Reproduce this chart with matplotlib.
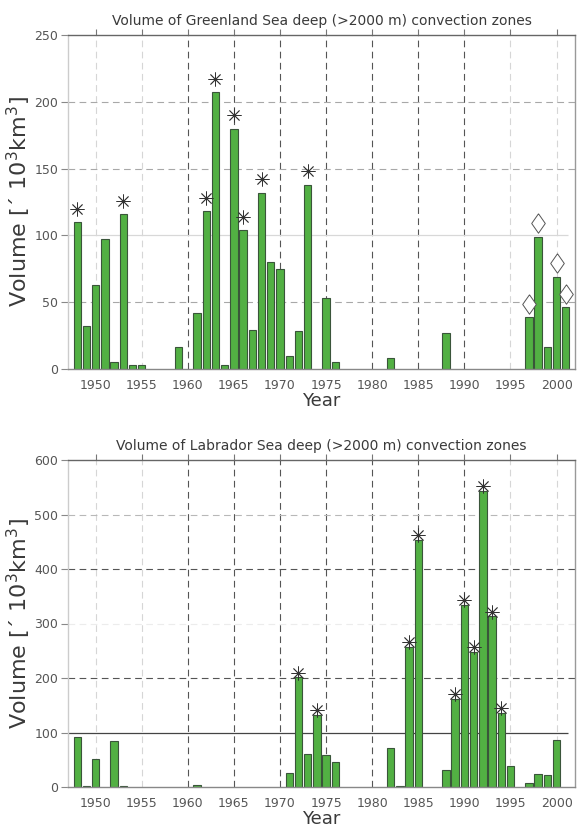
import matplotlib
matplotlib.use("Agg")
import matplotlib.pyplot as plt
import numpy as np

# ---------------- data ----------------
gr_years = [1948, 1949, 1950, 1951, 1952, 1953, 1954, 1955, 1959, 1961, 1962, 1963,
            1964, 1965, 1966, 1967, 1968, 1969, 1970, 1971, 1972, 1973, 1975, 1976,
            1982, 1988, 1997, 1998, 1999, 2000, 2001]
gr_values = [110, 32, 63, 97, 5.5, 116, 2.7, 2.7, 16.5, 42, 118, 207,
             2.7, 180, 104, 29, 132, 80, 75, 10, 28.5, 138, 53.5, 5.5,
             8.5, 27, 39, 99, 16.5, 69, 46.5]
gr_star_years = [1948, 1953, 1962, 1963, 1965, 1966, 1968, 1973]
gr_diamond_years = [1997, 1998, 2000, 2001]

lab_years = [1948, 1949, 1950, 1952, 1953, 1961, 1971, 1972, 1973, 1974, 1975, 1976,
             1982, 1983, 1984, 1985, 1988, 1989, 1990, 1991, 1992, 1993, 1994, 1995,
             1997, 1998, 1999, 2000]
lab_values = [91, 1, 50.5, 83.5, 1, 3.5, 26, 201, 61, 132, 59, 45.5,
              71, 1, 257, 454, 30.5, 161, 334.5, 247, 543, 313, 136, 38.5,
              7.5, 24, 22, 85.5]
lab_star_years = [1972, 1974, 1984, 1985, 1989, 1990, 1991, 1992, 1993, 1994]

x_ticks = [1950, 1955, 1960, 1965, 1970, 1975, 1980, 1985, 1990, 1995, 2000]
gr_yticks = [0, 50, 100, 150, 200, 250]
lab_yticks = [0, 100, 200, 300, 400, 500, 600]

titles = ["Volume of Greenland Sea deep (>2000 m) convection zones",
          "Volume of Labrador Sea deep (>2000 m) convection zones"]
ylabel = "Volume [\u00b4 10$^3$km$^3$]"
xlabel = "Year"

# ---------------- style ----------------
plt.rcParams['font.family'] = ['DejaVu Sans']
BAR_FACE = '#52b043'
BAR_EDGE = '#3a553a'
TXT = '#3a3a3a'
DARK_V = [1960, 1965, 1970, 1975, 1980, 1985, 1990]
DIAMOND = [(0, 1), (0.7, 0), (0, -1), (-0.7, 0), (0, 1)]

fig = plt.figure(figsize=(5.79, 8.30), dpi=100)
ax1 = fig.add_axes([68/579, 1-369/830, (575-68)/579, (369-35)/830])
ax2 = fig.add_axes([68/579, 1-787/830, (575-68)/579, (787-460)/830])


def style_axis(ax, ylim, yticks, hstyles, xlabelpad):
    ax.set_xlim(1947, 2002)
    ax.set_ylim(*ylim)
    ax.set_xticks(x_ticks)
    ax.set_yticks(yticks)
    for xv in x_ticks:
        if xv in DARK_V:
            ax.axvline(xv, color='#555555', lw=0.8, ls=(0, (6, 4)), zorder=0)
        else:
            ax.axvline(xv, color='#d6d6d6', lw=0.8, ls=(0, (6, 4)), zorder=0)
    for yv, (col, ls) in hstyles.items():
        if ls == 'solid':
            ax.hlines(yv, 1947, 2001.2, color=col, lw=0.9, zorder=0.5)
        else:
            ax.axhline(yv, color=col, lw=0.8, ls=(0, (6, 4)), zorder=0)
    ax.spines['left'].set_color('#cccccc')
    ax.spines['top'].set_color('#666666')
    ax.spines['right'].set_color('#999999')
    ax.spines['bottom'].set_color('#888888')
    for s in ax.spines.values():
        s.set_linewidth(1.0)
    ax.tick_params(axis='y', direction='out', length=5, width=0.8, color='#888888',
                   labelsize=9, labelcolor='#555555', pad=2)
    ax.tick_params(axis='x', direction='out', labelsize=9, labelcolor='#555555', pad=3)
    ax.tick_params(axis='x', which='major', top=True, length=4, color='#777777')
    ax.tick_params(axis='x', bottom=False)
    ax.set_ylabel(ylabel, fontsize=16, color=TXT)
    ax.yaxis.set_label_coords(-0.069, 0.5)
    ax.set_xlabel(xlabel, fontsize=13, color=TXT, labelpad=xlabelpad)


# ---------- top panel ----------
style_axis(ax1, (0, 250), gr_yticks,
           {200: ('#a8a8a8', 'dash'), 150: ('#a8a8a8', 'dash'),
            100: ('#d8d8d8', 'solid'), 50: ('#a8a8a8', 'dash')}, 0.5)
ax1.bar(gr_years, gr_values, width=0.8, color=BAR_FACE, edgecolor=BAR_EDGE,
        linewidth=0.8, zorder=2)
gmap = dict(zip(gr_years, gr_values))
ax1.plot(gr_star_years, [gmap[y] + 10 for y in gr_star_years], ls='none',
         marker=(8, 2, 0), ms=10, mew=0.6, color='#333333', zorder=3)
ax1.plot(gr_diamond_years, [gmap[y] + 10 for y in gr_diamond_years], ls='none',
         marker=DIAMOND, ms=14, mew=0.7, mfc='white', mec='#555555', zorder=3)
ax1.set_title(titles[0], fontsize=10, color=TXT, pad=7)

# ---------- bottom panel ----------
style_axis(ax2, (0, 600), lab_yticks,
           {500: ('#b8b8b8', 'dash'), 400: ('#555555', 'dash'),
            300: ('#ececec', 'dash'), 200: ('#555555', 'dash'),
            100: ('#444444', 'solid')}, 0.5)
ax2.bar(lab_years, lab_values, width=0.8, color=BAR_FACE, edgecolor=BAR_EDGE,
        linewidth=0.8, zorder=2)
lmap = dict(zip(lab_years, lab_values))
ax2.plot(lab_star_years, [lmap[y] + 9 for y in lab_star_years], ls='none',
         marker=(8, 2, 0), ms=10, mew=0.6, color='#333333', zorder=3)
ax2.set_title(titles[1], fontsize=10, color=TXT, pad=7)

fig.savefig('out.png', dpi=100)
